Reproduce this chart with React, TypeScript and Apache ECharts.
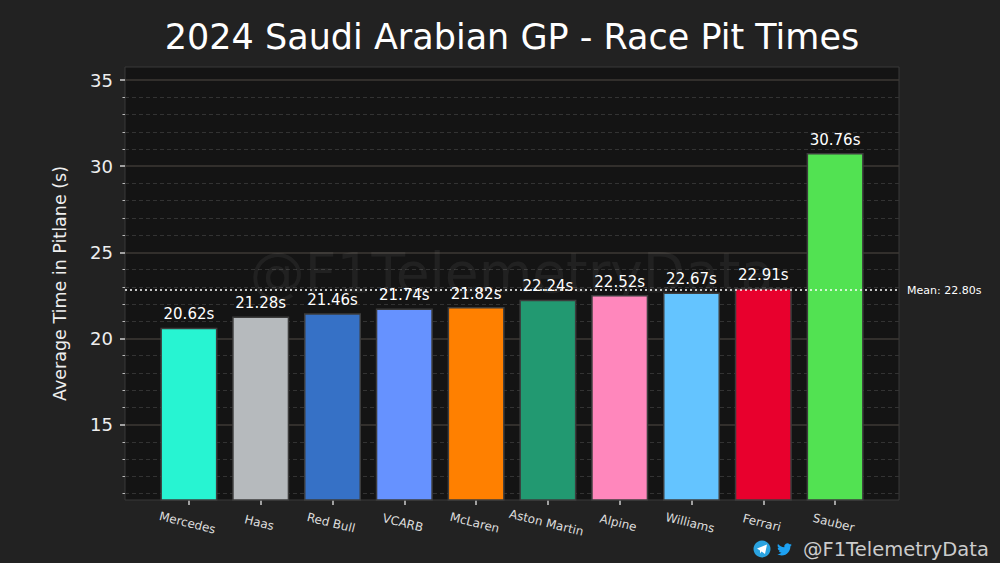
import { useRef, useEffect } from 'react'
import * as echarts from 'echarts'

const teams = ['Mercedes', 'Haas', 'Red Bull', 'VCARB', 'McLaren', 'Aston Martin', 'Alpine', 'Williams', 'Ferrari', 'Sauber'];
const pitTimes = [20.62, 21.28, 21.46, 21.74, 21.82, 22.24, 22.52, 22.67, 22.91, 30.76];
const teamColors = ['#27F4D2', '#B6BABD', '#3671C6', '#6692FF', '#FF8000', '#229971', '#FF87BC', '#64C4FF', '#E8002D', '#52E252'];
const majorTicks = [15, 20, 25, 30, 35];
const minorTicks = [11, 12, 13, 14, 16, 17, 18, 19, 21, 22, 23, 24, 26, 27, 28, 29, 31, 32, 33, 34];

const FONT = '"DejaVu Sans", sans-serif';
const twitterPath = 'M23.953 4.57 a10 10 0 0 1 -2.825 .775 a4.958 4.958 0 0 0 2.163 -2.723 c-.951 .555 -2.005 .959 -3.127 1.184 a4.92 4.92 0 0 0 -8.384 4.482 C7.69 8.095 4.067 6.13 1.64 3.162 a4.822 4.822 0 0 0 -.666 2.475 c0 1.71 .87 3.213 2.188 4.096 a4.904 4.904 0 0 1 -2.228 -.616 v.06 a4.923 4.923 0 0 0 3.946 4.827 a4.996 4.996 0 0 1 -2.212 .085 a4.936 4.936 0 0 0 4.604 3.417 a9.867 9.867 0 0 1 -6.102 2.105 c-.39 0 -.779 -.023 -1.17 -.067 a13.995 13.995 0 0 0 7.557 2.209 c9.053 0 13.998 -7.496 13.998 -13.985 c0 -.21 0 -.42 -.015 -.63 A9.935 9.935 0 0 0 24 4.59 z';

function App() {
  const chartRef = useRef<HTMLDivElement>(null);

  useEffect(() => {
    document.body.style.margin = '0';
    if (!chartRef.current) return;
    echarts.graphic.registerShape('twbird', echarts.graphic.extendPath(twitterPath, {}) as any);
    const myChart = echarts.init(chartRef.current, null, { renderer: 'svg' });

    const mean = pitTimes.reduce((a, b) => a + b, 0) / pitTimes.length;
    const indices = teams.map((_, i) => i);

    const option = {
      animation: false,
      backgroundColor: '#222222',
      textStyle: { fontFamily: FONT },
      grid: {
        left: 125, right: 101, top: 67, bottom: 63,
        show: true, backgroundColor: '#141414', borderColor: '#383838', borderWidth: 1
      },
      graphic: [
        {
          type: 'text', x: 512, y: 37, z: 10,
          style: { text: '2024 Saudi Arabian GP - Race Pit Times', fill: '#ffffff', font: '35px ' + FONT, textAlign: 'center', textVerticalAlign: 'middle' }
        },
        {
          type: 'text', x: 512, y: 273, z: 1,
          style: { text: '@F1TelemetryData', fill: 'rgba(255,255,255,0.06)', font: '55px ' + FONT, textAlign: 'center', textVerticalAlign: 'middle' }
        },
        { type: 'circle', shape: { cx: 762, cy: 549, r: 8.5 }, style: { fill: '#2AA3E0' }, z: 10 },
        {
          type: 'polygon', z: 11,
          shape: { points: [[757, 548.5], [767, 544.5], [765, 554], [761.5, 551.5], [760, 553.5], [760, 550.5]] },
          style: { fill: '#ffffff' }
        },
        { type: 'twbird', x: 777, y: 542, scaleX: 0.62, scaleY: 0.62, shape: {}, style: { fill: '#1DA1F2' }, z: 10 },
        {
          type: 'text', x: 803, y: 549, z: 10,
          style: { text: '@F1TelemetryData', fill: '#cccccc', font: '19.5px ' + FONT, textAlign: 'left', textVerticalAlign: 'middle' }
        }
      ],
      xAxis: {
        type: 'value',
        min: -0.89,
        max: 9.89,
        axisLine: { show: false, onZero: false },
        splitLine: { show: false },
        axisTick: { show: true, customValues: indices, length: 5, lineStyle: { color: '#cccccc', width: 1.5 } },
        axisLabel: {
          customValues: indices,
          formatter: (v: number) => teams[Math.round(v)] ?? '',
          rotate: -14,
          align: 'center',
          verticalAlign: 'top',
          margin: 17,
          color: '#dddddd',
          fontSize: 12,
          fontFamily: FONT
        }
      },
      yAxis: [
        {
          type: 'value',
          min: 10.62,
          max: 35.76,
          name: 'Average Time in Pitlane (s)',
          nameLocation: 'middle',
          nameGap: 56,
          nameTextStyle: { color: '#eeeeee', fontSize: 17.5, fontFamily: FONT },
          axisLine: { show: false, onZero: false },
          axisTick: { show: true, customValues: majorTicks, length: 5, lineStyle: { color: '#cccccc', width: 1.5 } },
          axisLabel: { customValues: majorTicks, color: '#eeeeee', fontSize: 18, margin: 12, fontFamily: FONT },
          splitLine: { show: true, lineStyle: { color: '#3d3935', width: 1.5, type: 'solid' } }
        },
        {
          type: 'value',
          min: 10.62,
          max: 35.76,
          position: 'left',
          axisLine: { show: false, onZero: false },
          axisLabel: { show: false },
          axisTick: { show: true, customValues: minorTicks, length: 2.5, lineStyle: { color: '#bbbbbb', width: 1 } },
          splitLine: { show: true, lineStyle: { color: '#333333', width: 1, type: [4, 3] } }
        }
      ],
      series: [
        {
          type: 'bar',
          xAxisIndex: 0,
          yAxisIndex: 0,
          barWidth: 57,
          z: 3,
          data: pitTimes.map((v, i) => ({
            value: [i, v],
            itemStyle: { color: teamColors[i], borderColor: '#3c3c3c', borderWidth: 1.5 }
          })),
          label: {
            show: true,
            position: 'top',
            distance: 6,
            color: '#ffffff',
            fontSize: 15,
            fontFamily: FONT,
            formatter: (p: any) => p.value[1].toFixed(2) + 's'
          },
          markLine: {
            silent: true,
            symbol: ['none', 'none'],
            z: 5,
            lineStyle: { type: [2, 3], color: '#ffffff', width: 1.5 },
            label: {
              position: 'end',
              distance: 8,
              color: '#ffffff',
              fontSize: 11,
              fontFamily: FONT,
              formatter: 'Mean: ' + mean.toFixed(2) + 's'
            },
            data: [{ yAxis: mean }]
          }
        }
      ]
    };
    myChart.setOption(option as any);

    return () => {
      myChart.dispose();
    };
  }, []);

  return (
    <div ref={chartRef} style={{ width: '1000px', height: '563px' }}></div>
  )
}

export default App
